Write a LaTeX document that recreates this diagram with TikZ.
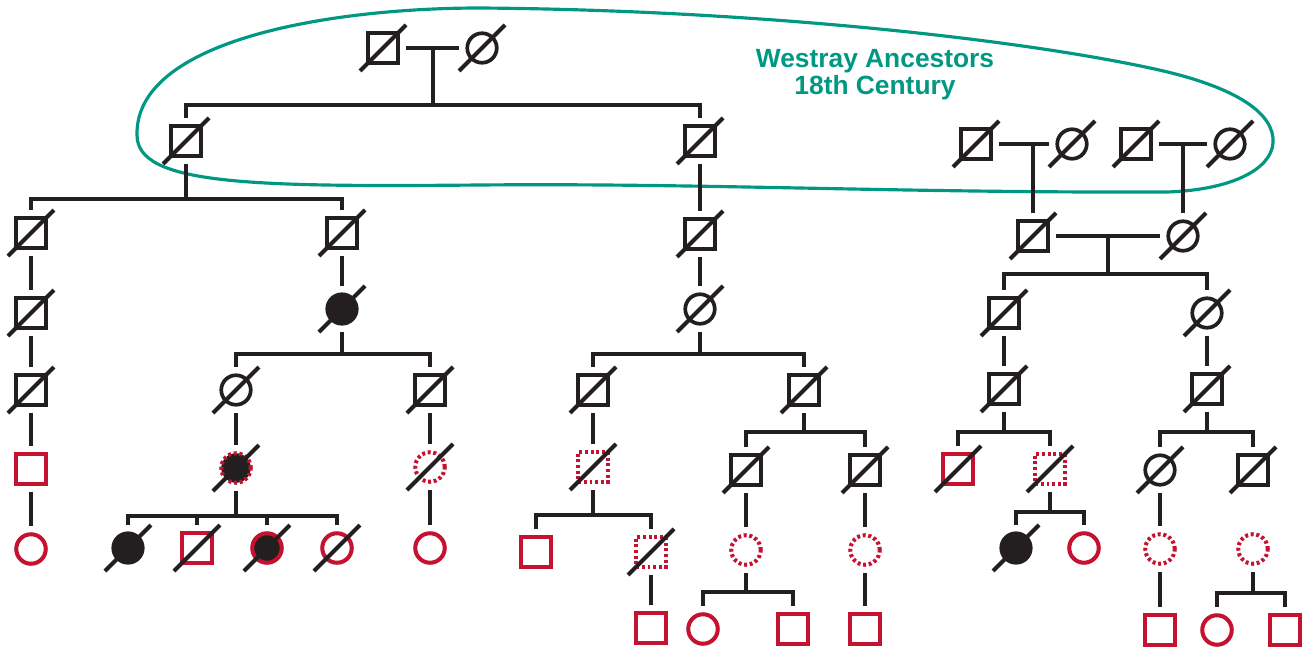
\documentclass[tikz,border=0pt]{standalone}
\usepackage{fontspec}
\setsansfont{Liberation Sans}
\definecolor{ink}{RGB}{35,31,32}
\definecolor{pedred}{RGB}{196,18,48}
\definecolor{westray}{RGB}{0,152,130}
\tikzset{
  ind/.style={draw=ink,line width=2.1pt,minimum size=0.59cm,inner sep=0pt,outer sep=0.16cm},
  male/.style={ind,rectangle},
  female/.style={ind,circle},
  aff/.style={fill=ink},
  carrier/.style={draw=pedred,line width=2.3pt},
  dotred/.style={draw=pedred,line width=2.3pt,dash pattern=on 1.7pt off 1.5pt},
  link/.style={draw=ink,line width=2.1pt},
  slash/.style={draw=ink,line width=2.3pt}
}
\begin{document}
\begin{tikzpicture}[x=0.02cm,y=-0.02cm]
\useasboundingbox (0,0) rectangle (1312,649);

\draw[westray,line width=1.8pt] (137,135) .. controls (135,40) and (330,8) .. (480,8)
  .. controls (750,10) and (1010,38) .. (1150,68)
  .. controls (1240,87) and (1275,115) .. (1273,143)
  .. controls (1271,170) and (1230,190) .. (1167,192)
  .. controls (900,193) and (700,183) .. (480,185)
  .. controls (250,187) and (137,185) .. (137,135) -- cycle;
\node[font=\sffamily\bfseries\fontsize{15}{15.3}\selectfont,text=westray,align=center,anchor=base] (title) at (875,94) {Westray Ancestors\\18th Century};

% founders
\node[male] (m0) at (383,48) {};
\node[female] (f0) at (482,48) {};
\coordinate (u0) at (433,48);
\coordinate (s0) at (433,105);
\node[male] (A) at (186,141) {};
\node[male] (B) at (700,141) {};

% left branch
\coordinate (sA) at (186,199);
\node[male] (L1) at (31,233) {};
\node[male] (L2) at (31,313) {};
\node[male] (L3) at (31,390) {};
\node[male,carrier] (L4) at (31,469) {};
\node[female,carrier] (L5) at (31,549) {};
\node[male] (R1) at (342,233) {};
\node[female,aff] (R2) at (342,309) {};
\coordinate (sR) at (342,354);
\node[female] (R3a) at (236,390) {};
\node[male] (R3b) at (430,390) {};
\node[female,aff,dotred] (R4a) at (236,468) {};
\coordinate (sR4) at (236,516);
\node[female,aff] (c1) at (128,548) {};
\node[male,carrier] (c2) at (197,548) {};
\node[female,aff,carrier] (c3) at (267,548) {};
\node[female,carrier] (c4) at (337,548) {};
\node[female,dotred] (R4b) at (430,467) {};
\node[female,carrier] (R5b) at (430,548) {};

% middle branch
\node[male] (B2) at (700,234) {};
\node[female] (B3) at (700,309) {};
\coordinate (sB) at (700,354);
\node[male] (B4a) at (593,390) {};
\node[male] (B4b) at (804,390) {};
\node[male,dotred] (B5a) at (593,467) {};
\coordinate (sB5) at (593,515);
\node[male,carrier] (B6a) at (536,552) {};
\node[male,dotred] (B6b) at (651,552) {};
\node[male,carrier] (B7b) at (651,628) {};
\coordinate (sB4) at (804,432);
\node[male] (B5b) at (746,470) {};
\node[male] (B5c) at (865,470) {};
\node[female,dotred] (B6c) at (746,550) {};
\coordinate (sB6) at (746,592);
\node[female,carrier] (B7c) at (703,629) {};
\node[male,carrier] (B7d) at (793,629) {};
\node[female,dotred] (B6d) at (865,550) {};
\node[male,carrier] (B7e) at (865,629) {};

% right branch
\node[male] (m1) at (976,144) {};
\node[female] (f1) at (1072,144) {};
\coordinate (u1) at (1033,144);
\node[male] (m2) at (1136,144) {};
\node[female] (f2) at (1230,144) {};
\coordinate (u2) at (1183,144);
\node[male] (G1) at (1033,236) {};
\node[female] (G2) at (1183,236) {};
\coordinate (u3) at (1108,236);
\coordinate (sG) at (1108,274);
\node[male] (H1) at (1004,313) {};
\node[female] (H2) at (1207,313) {};
\node[male] (H1b) at (1004,389) {};
\coordinate (sH1) at (1004,432);
\node[male,carrier] (K1) at (958,469) {};
\node[male,dotred] (K2) at (1050,469) {};
\coordinate (sK) at (1050,512);
\node[female,aff] (K3) at (1016,548) {};
\node[female,carrier] (K4) at (1084,548) {};
\node[male] (H2b) at (1207,389) {};
\coordinate (sH2) at (1207,432);
\node[female] (J1) at (1160,470) {};
\node[male] (J2) at (1253,470) {};
\node[female,dotred] (J1b) at (1160,549) {};
\node[male,carrier] (J1c) at (1160,630) {};
\node[female,dotred] (J2b) at (1253,549) {};
\coordinate (sJ) at (1253,593);
\node[female,carrier] (J3) at (1217,630) {};
\node[male,carrier] (J4) at (1285,630) {};

% lines
\foreach \m/\f in {m0/f0,m1/f1,m2/f2,G1/G2}
  \draw[link] (\m) -- (\f);
\draw[link] (u0) -- (s0) -| (A) (s0) -| (B);
\draw[link] (u1) -- (G1) (u2) -- (G2);
\draw[link] (u3) -- (sG) -| (H1) (sG) -| (H2);
\foreach \a/\b in {L1/L2,L2/L3,L3/L4,L4/L5,R1/R2,R3a/R4a,R3b/R4b,R4b/R5b,B/B2,B2/B3,B4a/B5a,B6b/B7b,B5b/B6c,B5c/B6d,B6d/B7e,H1/H1b,H2/H2b,J1/J1b,J1b/J1c}
  \draw[link] (\a) -- (\b);
\foreach \p/\s/\l/\r in {A/sA/L1/R1,R2/sR/R3a/R3b,R4a/sR4/c1/c4,B3/sB/B4a/B4b,B5a/sB5/B6a/B6b,B4b/sB4/B5b/B5c,B6c/sB6/B7c/B7d,H1b/sH1/K1/K2,K2/sK/K3/K4,H2b/sH2/J1/J2,J2b/sJ/J3/J4}
  \draw[link] (\p) -- (\s) -| (\l) (\s) -| (\r);
\draw[link] (c2 |- sR4) -- (c2) (c3 |- sR4) -- (c3);

% deceased
\foreach \n in {m0,f0,A,B,L1,L2,L3,R1,R2,R3a,R3b,R4a,R4b,c1,c2,c3,c4,B2,B3,B4a,B4b,B5a,B6b,B5b,B5c,m1,f1,m2,f2,G1,G2,H1,H2,H1b,K1,K2,K3,H2b,J1,J2}
  \draw[slash] (\n) +(-23,23) -- +(23,-23);
\end{tikzpicture}
\end{document}
